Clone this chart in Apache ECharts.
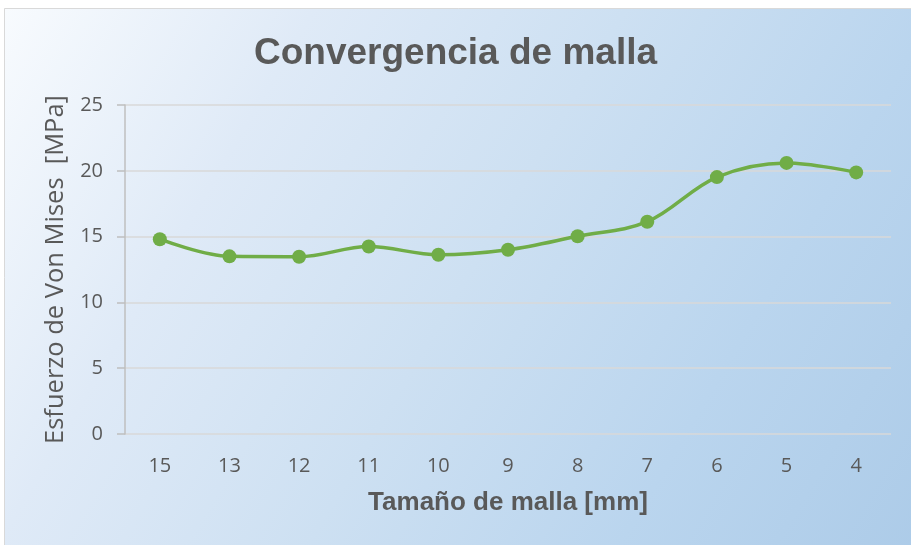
<!DOCTYPE html>
<html>
<head>
<meta charset="utf-8">
<script src="https://cdn.jsdelivr.net/npm/echarts@6/dist/echarts.min.js"></script>
<style>
  html, body { margin: 0; padding: 0; background: #ffffff; }
  #chart { width: 911px; height: 545px; }
</style>
</head>
<body>
<div id="chart"></div>
<script>
// Mesh size (mm) and resulting Von Mises stress (MPa)
const meshSizes = ['15', '13', '12', '11', '10', '9', '8', '7', '6', '5', '4'];
const vonMises = [14.8, 13.5, 13.47, 14.25, 13.62, 14.0, 15.03, 16.13, 19.52, 20.6, 19.88];
const yTicks = { min: 0, max: 25, interval: 5 };

const chart = echarts.init(document.getElementById('chart'), null, { renderer: 'canvas' });

const gray = '#595959';
const bodyFont = 'Open Sans, Liberation Sans, sans-serif';
const headFont = 'Liberation Sans, Arial, sans-serif';

chart.setOption({
  animation: false,
  backgroundColor: '#ffffff',
  graphic: [{
    type: 'rect',
    z: -10,
    silent: true,
    shape: { x: 4.5, y: 8.5, width: 920, height: 545 },
    style: {
      fill: new echarts.graphic.LinearGradient(0, 0, 1, 1, [
        { offset: 0, color: '#f8fbfe' },
        { offset: 0.25, color: '#dfeaf7' },
        { offset: 0.5, color: '#cde0f2' },
        { offset: 0.75, color: '#bad5ee' },
        { offset: 1, color: '#accbe8' }
      ]),
      stroke: '#d9d9d9',
      lineWidth: 1
    }
  }],
  title: {
    text: 'Convergencia de malla',
    left: 'center',
    top: 30,
    textStyle: {
      fontFamily: headFont,
      fontWeight: 'bold',
      fontSize: 37,
      color: gray
    }
  },
  grid: { left: 125, right: 20, top: 105, bottom: 111, containLabel: false },
  xAxis: {
    type: 'category',
    data: meshSizes,
    boundaryGap: true,
    name: 'Tamaño de malla [mm]',
    nameLocation: 'middle',
    nameGap: 56,
    nameTextStyle: {
      fontFamily: headFont,
      fontWeight: 'bold',
      fontSize: 26,
      color: gray
    },
    axisLine: { show: false },
    axisTick: { show: false },
    axisLabel: {
      margin: 22,
      fontFamily: bodyFont,
      fontSize: 20,
      color: gray
    },
    splitLine: { show: false }
  },
  yAxis: {
    type: 'value',
    min: yTicks.min,
    max: yTicks.max,
    interval: yTicks.interval,
    name: 'Esfuerzo de Von Mises  [MPa]',
    nameLocation: 'middle',
    nameGap: 50,
    nameTextStyle: {
      fontFamily: bodyFont,
      fontSize: 25.5,
      color: gray
    },
    axisLine: { show: true, lineStyle: { color: '#bfbfbf', width: 1.5 } },
    axisTick: { show: true, length: 8, lineStyle: { color: '#bfbfbf', width: 1.5 } },
    axisLabel: {
      margin: 22,
      fontFamily: bodyFont,
      fontSize: 20,
      color: gray
    },
    splitLine: { show: true, lineStyle: { color: '#d9d9d9', width: 1.5 } }
  },
  series: [{
    type: 'line',
    data: vonMises,
    smooth: 0.35,
    symbol: 'circle',
    symbolSize: 14,
    lineStyle: { color: '#70ad47', width: 3.5 },
    itemStyle: { color: '#70ad47' }
  }]
});
</script>
</body>
</html>
